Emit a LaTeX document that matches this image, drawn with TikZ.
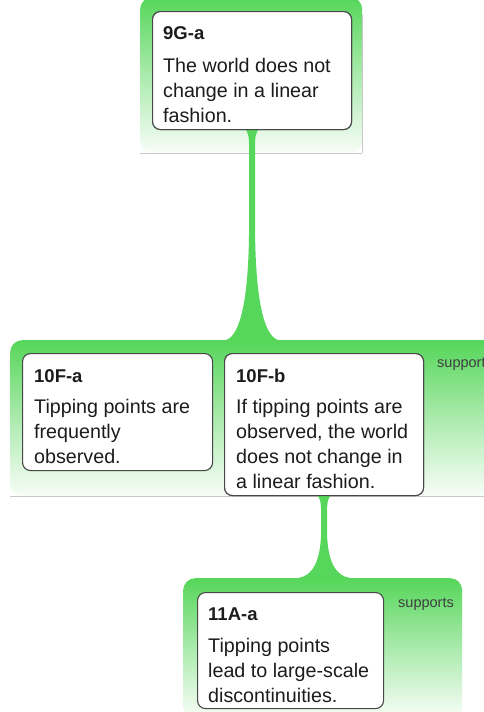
\documentclass[tikz,border=0pt]{standalone}
\usepackage{fontspec}
\setmainfont{Liberation Sans}
\usetikzlibrary{calc}

\definecolor{mapgreen}{RGB}{86,214,90}
\definecolor{boxline}{RGB}{72,72,72}
\definecolor{inkdark}{RGB}{28,28,28}
\definecolor{edgegrey}{RGB}{200,200,200}

\tikzset{
  grp/.style={rounded corners=12pt, top color=mapgreen, bottom color=mapgreen!4!white,
    middle color=mapgreen!50!white, draw=none, inner sep=0pt, anchor=north west},
  claim/.style={draw=boxline, line width=1.1pt, fill=white, rounded corners=8pt,
    inner sep=0pt, anchor=north west},
  ttl/.style={font=\fontsize{18.5}{22}\selectfont\bfseries, text=inkdark, inner sep=0pt, anchor=base west},
  body/.style={font=\fontsize{19.7}{25}\selectfont, text=inkdark, inner sep=0pt, anchor=base west},
  rel/.style={font=\fontsize{14.5}{17}\selectfont, text=inkdark!85, inner sep=0pt, anchor=base west},
  wire/.style={fill=mapgreen, draw=none},
  edgeline/.style={draw=edgegrey, line width=1pt},
}

% green stem from a claim down to the group it feeds, flaring at the foot
\newcommand\flarelink[3]{%
  \coordinate (#1top) at (#1.south);
  \coordinate (#1foot) at (#1.south |- #2.north);
  \fill[wire]
    ($(#1top)+(-7,-1)$) .. controls ($(#1top)+(-4,2)$) and ($(#1top)+(-3,6)$) .. ($(#1top)+(-3,16)$)
    -- ($(#1foot)+(-3,-#3)$)
    .. controls ($(#1foot)+(-3.5,-0.36*#3)$) and ($(#1foot)+(-12,-0.04*#3)$) .. ($(#1foot)+(-26,0)$)
    -- ($(#1foot)+(-26,2)$) -- ($(#1foot)+(26,2)$) -- ($(#1foot)+(26,0)$)
    .. controls ($(#1foot)+(12,-0.04*#3)$) and ($(#1foot)+(3.5,-0.36*#3)$) .. ($(#1foot)+(3,-#3)$)
    -- ($(#1top)+(3,16)$)
    .. controls ($(#1top)+(3,6)$) and ($(#1top)+(4,2)$) .. ($(#1top)+(7,-1)$)
    -- cycle;}

\begin{document}
\begin{tikzpicture}[x=1pt,y=-1pt]
\clip (0,0) rectangle (484,712);
\fill[white] (0,0) rectangle (484,712);

% groups
\node[grp, minimum width=222pt, minimum height=156pt] (g1) at (140,-3) {};
\node[grp, minimum width=490pt, minimum height=156pt] (g2) at (10,340) {};
\node[grp, minimum width=279pt, minimum height=140pt] (g3) at (183,578) {};

% group edges
\draw[edgeline] (g1.south west) -- (g1.south east);
\draw[edgeline] ([yshift=-18pt]g1.north east) -- (g1.south east);
\draw[edgeline] (g2.south west) -- (g2.south east);

% claims
\node[claim, minimum width=199pt, minimum height=118pt] (c9G) at (152,11) {};
\node[claim, minimum width=190pt, minimum height=117pt] (c10Fa) at (22,353) {};
\node[claim, minimum width=199pt, minimum height=142pt] (c10Fb) at (224,353) {};
\node[claim, minimum width=186pt, minimum height=116pt] (c11A) at (197,592) {};

% links
\flarelink{c9G}{g2}{110}
\flarelink{c10Fb}{g3}{45}

% redraw claims above the stems
\node[claim, minimum width=199pt, minimum height=118pt] at (152,11) {};
\node[claim, minimum width=199pt, minimum height=142pt] at (224,353) {};

% texts
\node[ttl] (t9G) at (163,39) {9G-a};
\foreach \txt [count=\i from 0] in {The world does not, change in a linear, fashion.}
  \node[body] (b9G\i) at (163,72+25*\i) {\txt};

\node[ttl] (t10Fa) at (34,382) {10F-a};
\foreach \txt [count=\i from 0] in {Tipping points are, frequently, observed.}
  \node[body] (b10Fa\i) at (34,413+25*\i) {\txt};

\node[ttl] (t10Fb) at (236,382) {10F-b};
\foreach \txt [count=\i from 0] in {If tipping points are, {observed, the world}, does not change in, a linear fashion.}
  \node[body] (b10Fb\i) at (236,413+25*\i) {\txt};

\node[ttl] (t11A) at (208,620) {11A-a};
\foreach \txt [count=\i from 0] in {Tipping points, lead to large-scale, discontinuities.}
  \node[body] (b11A\i) at (208,652+25*\i) {\txt};

% relation labels
\node[rel] (r2) at (437,367) {supports};
\node[rel] (r3) at (398,607) {supports};
\end{tikzpicture}
\end{document}
